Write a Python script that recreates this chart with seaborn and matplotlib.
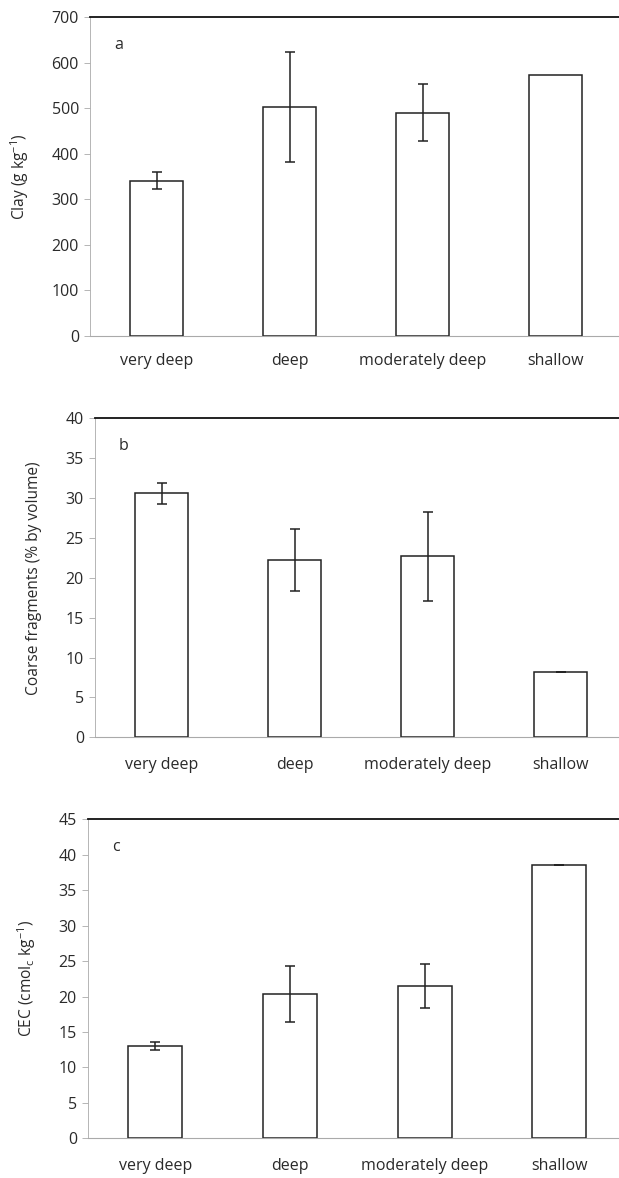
import matplotlib
matplotlib.use("Agg")
from matplotlib import pyplot as plt
import numpy as np
import pandas as pd
import seaborn as sns

# soil depth classes
depth = ["very deep", "deep", "moderately deep", "shallow"]

# panel a: clay (g/kg)
clay = [341, 503, 490, 573]
clay_err = [19.5, 121, 62, np.nan]

# panel b: coarse fragments (% by volume)
coarse = [30.6, 22.2, 22.7, 8.2]
coarse_err = [1.35, 3.9, 5.6, 0.0]

# panel c: CEC (cmolc/kg)
cec = [13.05, 20.3, 21.5, 38.5]
cec_err = [0.6, 3.95, 3.1, 0.0]

sns.set_style("white")
plt.rcParams['font.family'] = ['Open Sans', 'DejaVu Sans']
plt.rcParams['mathtext.fontset'] = 'custom'
plt.rcParams['mathtext.rm'] = 'Open Sans'
plt.rcParams['mathtext.it'] = 'Open Sans'

TXT = "#2a2a2a"

fig = plt.figure(figsize=(6.19, 11.78), dpi=100)

panels = [
    # left, bottom, width, height, values, errs, ymax, step, ylabel, letter, label x, x pad
    (0.1454, 0.7148, 0.860, 0.2708, clay, clay_err, 700, 100,
     "Clay (g kg$^{-1}$)", "a", -0.111, 12.5),
    (0.1535, 0.3741, 0.860, 0.2708, coarse, coarse_err, 40, 5,
     "Coarse fragments (% by volume)", "b", -0.100, 14.5),
    (0.1422, 0.0337, 0.870, 0.2708, cec, cec_err, 45, 5,
     "CEC (cmol$_\\mathrm{c}$ kg$^{-1}$)", "c", -0.093, 14.5),
]

for left, bottom, w, h, vals, errs, ymax, step, ylab, letter, lx, xpad in panels:
    ax = fig.add_axes([left, bottom, w, h])
    df = pd.DataFrame({"depth": depth, "value": vals})
    sns.barplot(data=df, x="depth", y="value", ax=ax, color="white",
                edgecolor="#222222", linewidth=1.1, width=0.4, errorbar=None)
    ax.errorbar(np.arange(len(depth)), vals, yerr=errs, fmt="none",
                ecolor="#222222", elinewidth=1.1, capsize=3.5, capthick=1.1)

    ax.set_xlim(-0.5, 3.5)
    ax.set_ylim(0, ymax)
    ax.set_yticks(np.arange(0, ymax + step, step))
    ax.set_xlabel("")
    ax.set_ylabel(ylab, fontsize=11.2, color=TXT)
    ax.yaxis.set_label_coords(lx, 0.5)

    ax.set_xticks([-0.5, 0.5, 1.5, 2.5, 3.5], minor=True)
    ax.tick_params(axis="x", which="major", length=0, pad=xpad,
                   labelsize=11.5, labelcolor=TXT)
    ax.tick_params(axis="x", which="minor", length=4, color="#aaaaaa",
                   width=0.6, direction="out")
    ax.tick_params(axis="y", length=4, color="#aaaaaa", width=0.6,
                   labelsize=11.5, labelcolor=TXT, left=True, pad=4)

    ax.spines["right"].set_visible(False)
    ax.spines["top"].set_color("#111111")
    ax.spines["top"].set_linewidth(1.3)
    ax.spines["left"].set_color("#aaaaaa")
    ax.spines["left"].set_linewidth(0.6)
    ax.spines["left"].set_linestyle((0, (2, 1)))
    ax.spines["bottom"].set_color("#aaaaaa")
    ax.spines["bottom"].set_linewidth(0.8)

    ax.text(0.045, 0.90, letter, transform=ax.transAxes, fontsize=11.5,
            color=TXT)

fig.savefig("out.png", dpi=100)
